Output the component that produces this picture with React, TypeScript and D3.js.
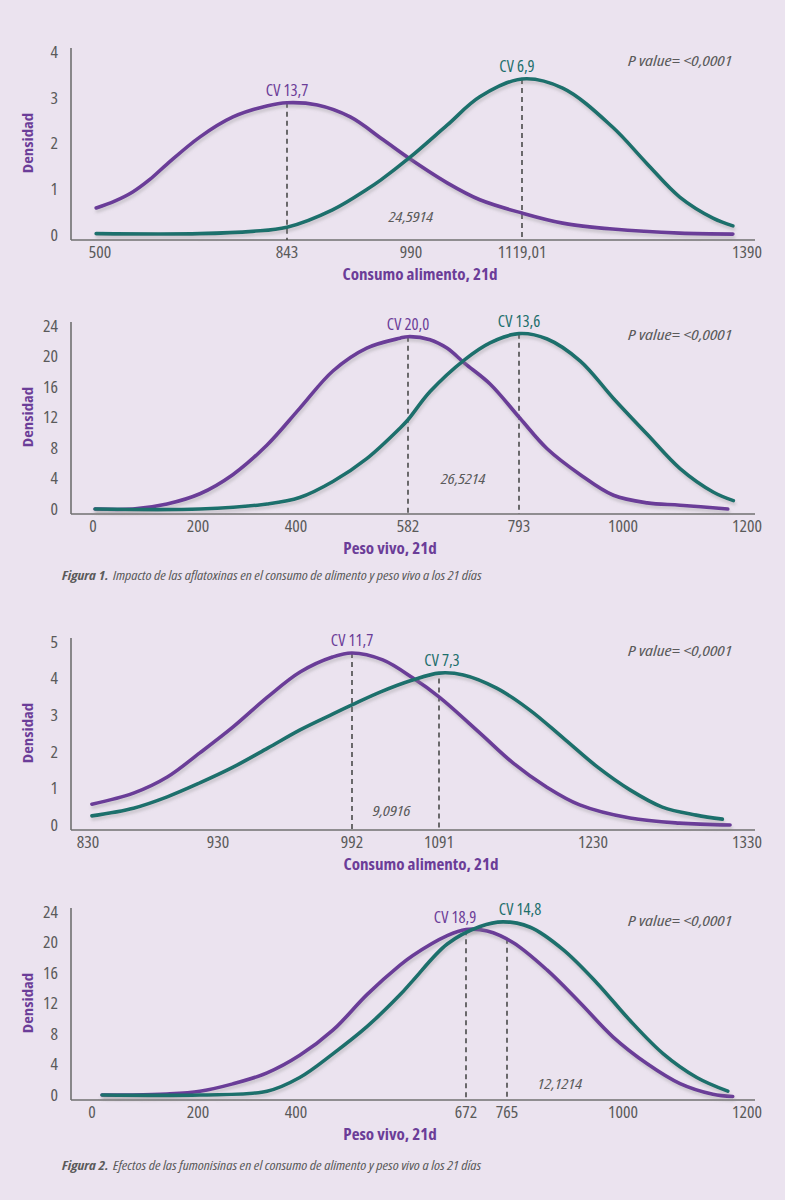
import React from 'react';
import * as d3 from 'd3';

type Pt = [number, number];

// ---------- DATA ----------
const P1_X_TICKS = [500, 843, 990, 1119.01, 1390];
const P1_X_LABELS = ['500', '843', '990', '1119,01', '1390'];
const P1_Y_TICKS = [0, 1, 2, 3, 4];
const P1_PURPLE: Pt[] = [[493, 0.59], [527, 0.74], [560, 0.94], [592, 1.22], [623, 1.55], [683, 2.14], [744, 2.58], [806, 2.82], [843, 2.89], [879, 2.84], [918, 2.58], [957, 2.08], [989, 1.66], [1032, 1.14], [1070, 0.77], [1119, 0.48], [1168, 0.26], [1228, 0.13], [1309, 0.04], [1373, 0.02]];
const P1_TEAL: Pt[] = [[493, 0.03], [683, 0.03], [780, 0.08], [843, 0.17], [897, 0.55], [938, 1.0], [954, 1.2], [989, 1.7], [1032, 2.4], [1070, 3.02], [1119, 3.41], [1168, 3.21], [1228, 2.36], [1269, 1.57], [1309, 0.83], [1349, 0.37], [1373, 0.2]];
const P1_MARKERS = [{ x: 843, top: 2.89, label: 'CV 13,7', s: 'p' }, { x: 1119.01, top: 3.41, label: 'CV 6,9', s: 't' }];
const P1_STAT = { x: 990, y: 0.28, label: '24,5914' };

const P2_X_TICKS = [0, 200, 400, 582, 793, 1000, 1200];
const P2_X_LABELS = ['0', '200', '400', '582', '793', '1000', '1200'];
const P2_Y_TICKS = [0, 4, 8, 12, 16, 20, 24];
const P2_PURPLE: Pt[] = [[4, 0], [76, 0], [141, 0.66], [204, 2.0], [271, 4.5], [341, 8.4], [406, 13.2], [460, 18.1], [515, 21.1], [569, 22.4], [582, 22.6], [624, 22.2], [656, 21.1], [690, 19.1], [738, 16.4], [795, 11.9], [849, 7.9], [915, 4.5], [981, 1.8], [1039, 0.8], [1092, 0.5], [1169, 0]];
const P2_TEAL: Pt[] = [[4, 0], [204, 0], [341, 0.66], [406, 1.5], [460, 3.6], [515, 6.6], [569, 10.6], [582, 11.7], [624, 15.4], [690, 19.6], [738, 21.8], [793, 23.0], [849, 22.3], [915, 19.4], [981, 14.5], [1039, 9.8], [1092, 5.3], [1146, 2.2], [1178, 1.1]];
const P2_MARKERS = [{ x: 582, top: 22.6, label: 'CV 20,0', s: 'p' }, { x: 793, top: 23.0, label: 'CV 13,6', s: 't' }];
const P2_STAT = { x: 687, y: 3.3, label: '26,5214' };

const P3_X_TICKS = [830, 930, 992, 1091, 1230, 1330];
const P3_X_LABELS = ['830', '930', '992', '1091', '1230', '1330'];
const P3_Y_TICKS = [0, 1, 2, 3, 4, 5];
const P3_PURPLE: Pt[] = [[833, 0.57], [865, 0.87], [891, 1.31], [916, 1.97], [937, 2.68], [953, 3.5], [968, 4.18], [983, 4.59], [992, 4.7], [1027, 4.51], [1061, 4.02], [1091, 3.5], [1128, 2.51], [1158, 1.69], [1188, 1.04], [1218, 0.55], [1254, 0.19], [1286, 0.05], [1319, 0.0]];
const P3_TEAL: Pt[] = [[833, 0.25], [865, 0.46], [891, 0.77], [916, 1.15], [937, 1.58], [953, 2.1], [968, 2.6], [983, 3.03], [992, 3.28], [1024, 3.63], [1061, 3.96], [1091, 4.15], [1113, 4.1], [1143, 3.74], [1173, 3.14], [1203, 2.38], [1233, 1.58], [1254, 0.96], [1275, 0.49], [1297, 0.27], [1314, 0.16]];
const P3_MARKERS = [{ x: 992, top: 4.7, label: 'CV 11,7', s: 'p' }, { x: 1091, top: 4.0, label: 'CV 7,3', s: 't' }];
const P3_STAT = { x: 1037, y: 0.25, label: '9,0916' };

const P4_X_TICKS = [0, 200, 400, 672, 765, 1000, 1200];
const P4_X_LABELS = ['0', '200', '400', '672', '765', '1000', '1200'];
const P4_Y_TICKS = [0, 4, 8, 12, 16, 20, 24];
const P4_PURPLE: Pt[] = [[19, 0], [77, 0], [141, 0.13], [204, 0.5], [271, 1.46], [341, 2.9], [406, 5.2], [459, 8.5], [514, 13.2], [566, 17.0], [587, 18.3], [642, 20.9], [672, 21.7], [720, 21.5], [777, 20.0], [846, 16.4], [913, 12.1], [980, 7.6], [1039, 4.1], [1092, 1.5], [1145, 0.1], [1177, -0.2]];
const P4_TEAL: Pt[] = [[19, 0], [204, 0], [341, 0.5], [406, 2.3], [459, 5.4], [514, 9.0], [566, 13.1], [587, 15.0], [642, 19.8], [704, 22.1], [756, 22.7], [812, 22.0], [878, 19.1], [947, 14.7], [1011, 9.8], [1065, 5.4], [1119, 2.3], [1169, 0.5]];
const P4_MARKERS = [{ x: 672, top: 21.6, label: 'CV 18,9', s: 'p' }, { x: 765, top: 20.5, label: 'CV 14,8', s: 't' }];
const P4_STAT = { x: 872, y: 0.8, label: '12,1214' };

const Y_TITLE = 'Densidad';
const X_TITLES = ['Consumo alimento, 21d', 'Peso vivo, 21d', 'Consumo alimento, 21d', 'Peso vivo, 21d'];
const P_VALUE = 'P value= <0,0001';
const CAPTIONS = [
  { bold: 'Figura 1.', text: 'Impacto de las aflatoxinas en el consumo de alimento y peso vivo  a los 21 días' },
  { bold: 'Figura 2.', text: 'Efectos de las fumonisinas en el  consumo de alimento y peso vivo a los 21 días' },
];

// ---------- LAYOUT / STYLE ----------
const W = 785, H = 1200;
const BG = '#ebe3ef';
const PURPLE = '#6b3d98';
const TEAL = '#1d6f6c';
const GRAY = '#5a5a5a';
const AXIS = '#707070';
const FONT = "'Open Sans', 'DejaVu Sans Condensed', sans-serif";
const AX_X = 71, AX_R = 755;
const PANEL_TOPS = [48, 322, 638, 908];
const X_RANGES = [
  [100, 287, 411, 522, 747],
  [93, 198, 296, 408, 519, 623, 747],
  [88, 218, 352, 439, 593, 747],
  [92, 198, 296, 466, 507, 623, 747],
];
const X_TITLE_CX = [420, 390, 421, 390];
const CV_DX = [[0, -5], [0, 0], [0, 3], [-11, 13]];
const CAPTION_Y = [580, 1170];

const PANELS = [
  { xt: P1_X_TICKS, xl: P1_X_LABELS, yt: P1_Y_TICKS, p: P1_PURPLE, t: P1_TEAL, m: P1_MARKERS, st: P1_STAT },
  { xt: P2_X_TICKS, xl: P2_X_LABELS, yt: P2_Y_TICKS, p: P2_PURPLE, t: P2_TEAL, m: P2_MARKERS, st: P2_STAT },
  { xt: P3_X_TICKS, xl: P3_X_LABELS, yt: P3_Y_TICKS, p: P3_PURPLE, t: P3_TEAL, m: P3_MARKERS, st: P3_STAT },
  { xt: P4_X_TICKS, xl: P4_X_LABELS, yt: P4_Y_TICKS, p: P4_PURPLE, t: P4_TEAL, m: P4_MARKERS, st: P4_STAT },
];

// text stretched horizontally to mimic a semi-condensed face
function T({ x, y, sx = 1, children, ...rest }: any) {
  return (
    <g transform={`translate(${x},${y}) scale(${sx},1)`}>
      <text {...rest}>{children}</text>
    </g>
  );
}

function Panel({ i }: { i: number }) {
  const cfg = PANELS[i];
  const top = PANEL_TOPS[i];
  const axisY = top + 192;
  const x = d3.scaleLinear().domain(cfg.xt).range(X_RANGES[i]);
  const yMax = cfg.yt[cfg.yt.length - 1];
  const y = d3.scaleLinear().domain([0, yMax]).range([top + 187, top + 4]);
  const line = d3.line<Pt>().x(d => x(d[0])).y(d => y(d[1])).curve(d3.curveCatmullRom.alpha(0.5));
  return (
    <g>
      <line x1={AX_X} x2={AX_X} y1={top} y2={axisY} stroke={AXIS} strokeWidth={1.6} />
      <line x1={AX_X} x2={AX_R} y1={axisY} y2={axisY} stroke={AXIS} strokeWidth={1.6} />
      {cfg.yt.map(v => (
        <T key={v} x={58} y={y(v)} sx={1.1} dy="0.36em" textAnchor="end" fontSize={16} fill={GRAY}>{v}</T>
      ))}
      {cfg.xt.map((v, k) => (
        <T key={v} x={x(v)} y={axisY + 18} sx={1.1} textAnchor="middle" fontSize={16} fill={GRAY}>{cfg.xl[k]}</T>
      ))}
      <g transform={`translate(33,${top + 95}) rotate(-90) scale(1.12,1)`}>
        <text textAnchor="middle" fontSize={15} fontWeight="bold" fill={PURPLE}>{Y_TITLE}</text>
      </g>
      <T x={X_TITLE_CX[i]} y={axisY + 40} sx={1.1} textAnchor="middle" fontSize={15.5} fontWeight="bold" fill={PURPLE}>{X_TITLES[i]}</T>
      {cfg.m.map(mk => (
        <line key={mk.label} x1={x(mk.x)} x2={x(mk.x)} y1={y(mk.top)} y2={axisY} stroke="#4a4a4a" strokeWidth={1.6} strokeDasharray="5 4" />
      ))}
      <path d={line(cfg.p) || ''} fill="none" stroke={PURPLE} strokeWidth={3.6} strokeLinecap="round" filter="url(#shadow)" />
      <path d={line(cfg.t) || ''} fill="none" stroke={TEAL} strokeWidth={3.6} strokeLinecap="round" filter="url(#shadow)" />
      {cfg.m.map((mk, k) => {
        const series = mk.s === 'p' ? cfg.p : cfg.t;
        const peak = d3.max(series, d => d[1]) as number;
        return (
          <T key={mk.label} x={x(mk.x) + CV_DX[i][k]} y={y(peak) - 7} sx={1.07} textAnchor="middle" fontSize={15.5} fill={mk.s === 'p' ? PURPLE : TEAL}>{mk.label}</T>
        );
      })}
      <T x={x(cfg.st.x)} y={y(cfg.st.y)} sx={1.22} textAnchor="middle" fontSize={14.5} fontStyle="italic" fill={GRAY}>{cfg.st.label}</T>
      <T x={680} y={top + 18} sx={1.28} textAnchor="middle" fontSize={15} fontStyle="italic" fill={GRAY}>{P_VALUE}</T>
    </g>
  );
}

export default function App() {
  return (
    <svg width={W} height={H} fontFamily={FONT} style={{ position: 'absolute', left: 0, top: 0, display: 'block', fontStretch: '75%' }}>
      <defs>
        <filter id="shadow" x="-5%" y="-20%" width="110%" height="140%">
          <feDropShadow dx={1} dy={3} stdDeviation={1.6} floodColor="#8c8c8c" floodOpacity={0.35} />
        </filter>
      </defs>
      <rect width={W} height={H} fill={BG} />
      {PANELS.map((_, i) => <Panel key={i} i={i} />)}
      {CAPTIONS.map((c, k) => (
        <T key={k} x={62} y={CAPTION_Y[k]} sx={1.15} fontSize={13} fontStyle="italic" fill={GRAY}>
          <tspan fontWeight="bold">{c.bold}</tspan>
          <tspan dx={4}>{c.text}</tspan>
        </T>
      ))}
    </svg>
  );
}
